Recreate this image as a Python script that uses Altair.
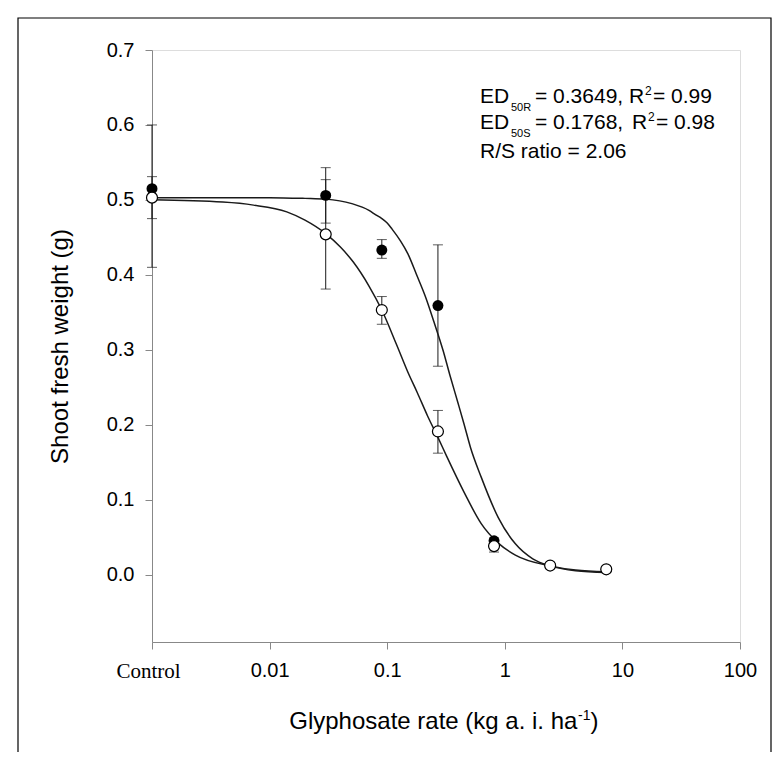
import altair as alt
import pandas as pd

# ---- data ----
dose = [0.001, 0.03, 0.09, 0.27, 0.81, 2.43, 7.29]   # 0.001 = "Control"
r_mean = [0.515, 0.506, 0.433, 0.359, 0.045, 0.012, 0.007]
r_lo = [0.41, 0.469, 0.422, 0.278, 0.041, 0.010, 0.006]
r_hi = [0.60, 0.543, 0.447, 0.440, 0.049, 0.014, 0.008]
s_mean = [0.503, 0.454, 0.353, 0.191, 0.038, 0.012, 0.007]
s_lo = [0.475, 0.381, 0.334, 0.162, 0.030, 0.010, 0.005]
s_hi = [0.531, 0.527, 0.371, 0.219, 0.046, 0.014, 0.009]

r_curve_x = [0.001, 0.005, 0.01, 0.02, 0.03, 0.05, 0.07, 0.08, 0.09, 0.1, 0.11, 0.13, 0.15,
             0.18, 0.21, 0.25, 0.3, 0.34, 0.4, 0.45, 0.51, 0.63, 0.88, 1.23, 1.73, 2.43, 4.0, 7.29]
r_curve_y = [0.503, 0.503, 0.503, 0.502, 0.501, 0.495, 0.486, 0.480, 0.475, 0.469, 0.461, 0.445, 0.428,
             0.398, 0.372, 0.337, 0.298, 0.267, 0.229, 0.201, 0.170, 0.130, 0.076, 0.041, 0.021,
             0.0116, 0.005, 0.0027]
s_curve_x = [0.001, 0.004, 0.0073, 0.014, 0.02, 0.03, 0.04, 0.0515, 0.07, 0.09, 0.12, 0.15,
             0.18, 0.22, 0.27, 0.32, 0.45, 0.63, 0.88, 1.23, 2.43, 4.0, 7.29]
s_curve_y = [0.500, 0.497, 0.493, 0.484, 0.473, 0.455, 0.437, 0.417, 0.385, 0.353, 0.307, 0.270,
             0.243, 0.212, 0.183, 0.158, 0.110, 0.068, 0.042, 0.026, 0.0116, 0.006, 0.0036]

x_ticks = [0.001, 0.01, 0.1, 1, 10, 100]
y_ticks = [0.0, 0.1, 0.2, 0.3, 0.4, 0.5, 0.6, 0.7]

# ---- tables ----
pts = pd.DataFrame({
    "dose": dose * 2,
    "mean": r_mean + s_mean,
    "lo": r_lo + s_lo,
    "hi": r_hi + s_hi,
    "pop": ["R"] * len(dose) + ["S"] * len(dose),
})
curves = pd.DataFrame({
    "dose": r_curve_x + s_curve_x,
    "w": r_curve_y + s_curve_y,
    "pop": ["R"] * len(r_curve_x) + ["S"] * len(s_curve_x),
})

INK = "#1a1a1a"
PX0, PY0 = 152, 50  # plot origin on the page
W, H = 588, 592

xscale = alt.Scale(type="log", domain=[0.001, 100])
yscale = alt.Scale(domain=[-0.09, 0.7], nice=False, zero=False)

is_ctrl = "datum.value <= 0.001"
xaxis = alt.Axis(
    values=x_ticks, title=None, grid=False,
    labelExpr="datum.value <= 0.001 ? 'Control' : format(datum.value, '~g')",
    labelFont={"condition": {"test": is_ctrl, "value": "Liberation Serif"},
               "value": "Liberation Sans"},
    labelFontSize={"condition": {"test": is_ctrl, "value": 21}, "value": 20},
    labelOffset={"condition": {"test": is_ctrl, "value": -4}, "value": 0},
    labelPadding=11, tickSize=7, labelFlush=False,
)
yaxis = alt.Axis(
    values=y_ticks, format=".1f", title="Shoot fresh weight (g)", grid=False,
    labelFont="Liberation Sans", labelFontSize=20, labelPadding=11, tickSize=7,
    titleFont="Liberation Sans", titleFontSize=24, titleFontWeight="normal",
    titlePadding=34, titleColor="black",
)


def X():
    return alt.X("dose:Q", scale=xscale, axis=xaxis)


def Yf(field):
    return alt.Y(f"{field}:Q", scale=yscale, axis=yaxis)


base = alt.Chart(pts)

lines = alt.Chart(curves).mark_line(color=INK, strokeWidth=1.5, interpolate="monotone").encode(
    x=X(), y=Yf("w"), detail="pop:N",
)
bars = base.mark_rule(color=INK, strokeWidth=1).encode(x=X(), y=Yf("lo"), y2="hi:Q")
cap_lo = base.mark_tick(color=INK, orient="horizontal", size=10, thickness=1).encode(x=X(), y=Yf("lo"))
cap_hi = base.mark_tick(color=INK, orient="horizontal", size=10, thickness=1).encode(x=X(), y=Yf("hi"))
filled = base.transform_filter("datum.pop == 'R'").mark_point(
    shape="circle", filled=True, color="black", size=120, opacity=1).encode(x=X(), y=Yf("mean"))
opened = base.transform_filter("datum.pop == 'S'").mark_point(
    shape="circle", filled=True, fill="white", stroke="black", strokeWidth=1.2,
    size=120, opacity=1).encode(x=X(), y=Yf("mean"))


def txt(s, px, py, size=21, font="Liberation Sans", align="left"):
    return alt.Chart(alt.Data(values=[{}])).mark_text(
        text=s, font=font, fontSize=size, align=align, baseline="alphabetic", color="black"
    ).encode(x=alt.value(px - PX0), y=alt.value(py - PY0))


ann = [
    txt("ED", 480, 102.5), txt("50R", 511, 110.5, 11), txt("= 0.3649, R", 535, 102.5),
    txt("2", 645, 94.5, 12), txt("= 0.99", 653, 102.5),
    txt("ED", 480, 129.2), txt("50S", 511, 137.0, 11), txt("= 0.1768,", 535, 129.2),
    txt("R", 632, 129.2), txt("2", 648, 121.2, 12), txt("= 0.98", 656, 129.2),
    txt("R/S ratio = 2.06", 480, 157.5),
    txt("Glyphosate rate (kg a. i. ha", 577.4, 728.6, 24, align="right"),
    txt("-1", 578, 719.5, 14), txt(")", 590.5, 728.6, 24),
]

frame = alt.Chart(alt.Data(values=[{}])).mark_rect(
    fillOpacity=0, stroke="black", strokeWidth=1.2, clip=False
).encode(x=alt.value(18 - PX0), x2=alt.value(771 - PX0),
         y=alt.value(18 - PY0), y2=alt.value(800 - PY0))

chart = alt.layer(lines, bars, cap_lo, cap_hi, filled, opened, frame, *ann).properties(
    width=W, height=H,
    padding={"left": PX0 - 8, "top": PY0 - 8, "right": 780 - 16 - PX0 + 8 - W,
             "bottom": 744 - (PY0 - 8) - H},
    autosize=alt.AutoSizeParams(type="none"),
).configure_view(stroke=INK, strokeWidth=1).configure_axis(
    domainColor=INK, tickColor=INK, labelColor="black", domainWidth=1, tickWidth=1,
).configure(background="white")

chart.save("out.html", embed_options={"renderer": "svg", "actions": False})
